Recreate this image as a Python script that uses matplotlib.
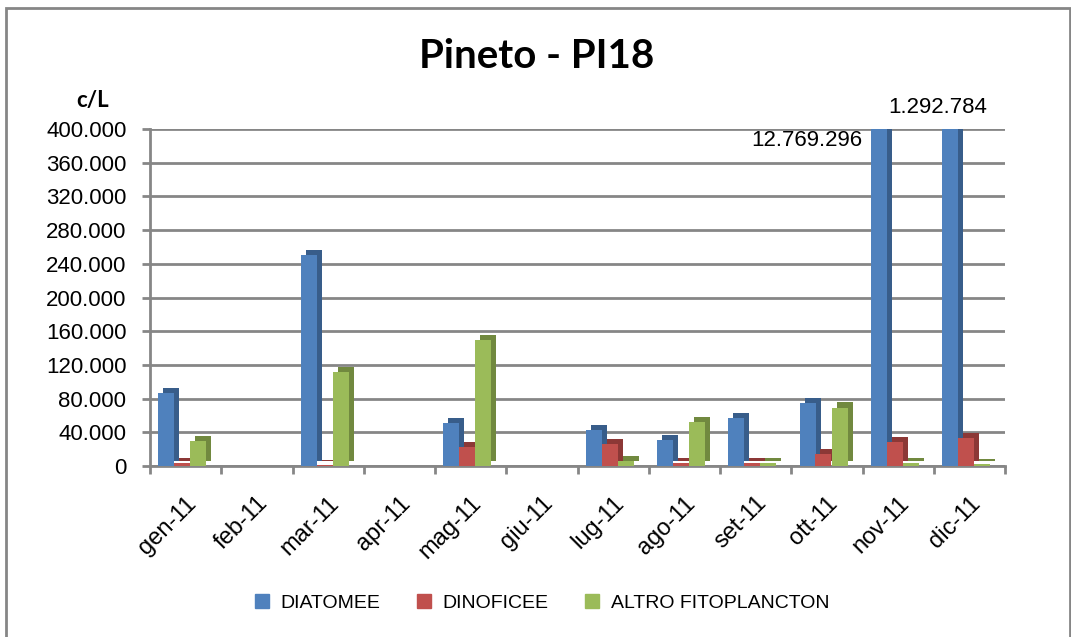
import matplotlib
matplotlib.use("Agg")
import matplotlib.pyplot as plt
from matplotlib.patches import Rectangle
from matplotlib.ticker import FuncFormatter, MultipleLocator
import numpy as np

months = ["gen-11", "feb-11", "mar-11", "apr-11", "mag-11", "giu-11",
          "lug-11", "ago-11", "set-11", "ott-11", "nov-11", "dic-11"]
diatomee = [87000, 500, 250000, 500, 51500, 500, 43000, 30500, 57500, 74600, 12769296, 1292784]
dinoficee = [3000, 500, 1500, 500, 22000, 500, 26000, 4000, 3500, 14000, 29000, 33000]
altro = [30000, 500, 112000, 500, 150000, 500, 6000, 52700, 3500, 69400, 4000, 2000]
series_names = ["DIATOMEE", "DINOFICEE", "ALTRO FITOPLANCTON"]
front_colors = ["#4F81BD", "#C0504D", "#9BBB59"]
side_colors = ["#385D8A", "#8C3836", "#71893F"]

TICK_FONT = "Liberation Sans"
ymax = 400000

fig = plt.figure(figsize=(10.71, 6.37), dpi=100)
fig.patch.set_facecolor("white")
fig.patches.append(Rectangle((6 / 1071, -0.02), (1070 - 6) / 1071, 1.02 - 8 / 637,
                             transform=fig.transFigure, fill=False,
                             edgecolor="#868686", linewidth=2.0, zorder=0))

ax = fig.add_axes([150 / 1071, 1 - 466 / 637, (1005 - 150) / 1071, (466 - 129) / 637])
x = np.arange(len(months))
w = 0.225
dx = 0.07
dy = 6000
offsets = [-0.27, -0.05, 0.18]
for vals, off, fc, sc in zip([diatomee, dinoficee, altro], offsets, front_colors, side_colors):
    vals = np.array(vals, dtype=float)
    ax.bar(x + off + dx, vals, width=w, bottom=dy, color=sc, zorder=2, linewidth=0)
    ax.bar(x + off, vals, width=w, color=fc, zorder=3, linewidth=0)

ax.set_ylim(0, ymax)
ax.set_xlim(-0.5, len(months) - 0.5)
ax.yaxis.set_major_locator(MultipleLocator(40000))
ax.yaxis.set_major_formatter(FuncFormatter(lambda v, p: f"{int(v):,}".replace(",", ".")))
ax.grid(axis="y", color="#868686", linewidth=2.0, zorder=1)
ax.set_axisbelow(True)
for s in ["top", "right"]:
    ax.spines[s].set_visible(False)
for s in ["left", "bottom"]:
    ax.spines[s].set_color("#868686")
    ax.spines[s].set_linewidth(2.0)
ax.tick_params(axis="y", length=6, width=2, color="#868686", labelsize=16, pad=11)
ax.set_xticks(x)
ax.set_xticklabels(months, rotation=45, ha="right", va="top", rotation_mode="anchor",
                   fontsize=17)
ax.tick_params(axis="x", which="major", length=0, pad=19)
ax.set_xticks(np.arange(-0.5, len(months)), minor=True)
ax.tick_params(axis="x", which="minor", length=6, width=2, color="#868686")
for lab in ax.get_xticklabels() + ax.get_yticklabels():
    lab.set_fontfamily(TICK_FONT)

# labels for clipped bars
ax.annotate("12.769.296", xy=(x[10] + offsets[0] - w / 2, ymax), xytext=(-6, -1),
            textcoords="offset points", ha="right", va="top", fontsize=16,
            fontfamily=TICK_FONT, annotation_clip=False)
ax.annotate("1.292.784", xy=(x[11] + offsets[0], ymax), xytext=(-9, 8),
            textcoords="offset points", ha="center", va="bottom", fontsize=16,
            fontfamily=TICK_FONT, annotation_clip=False)

fig.text(537 / 1071, 1 - 57 / 637, "Pineto - PI18", ha="center", va="center",
         fontsize=29, fontweight="bold", fontfamily="Lato")
fig.text(93 / 1071, 1 - 100 / 637, "c/L", ha="center", va="center",
         fontsize=16, fontweight="bold", fontfamily="Lato")

handles = [Rectangle((0, 0), 1, 1, color=c) for c in front_colors]
fig.legend(handles, series_names, loc="center", bbox_to_anchor=(542 / 1071, 1 - 603 / 637),
           ncol=3, frameon=False, prop={"family": TICK_FONT, "size": 14},
           handlelength=0.7, handleheight=0.7, columnspacing=1.9, handletextpad=0.6)

fig.savefig("out.png", dpi=100)
